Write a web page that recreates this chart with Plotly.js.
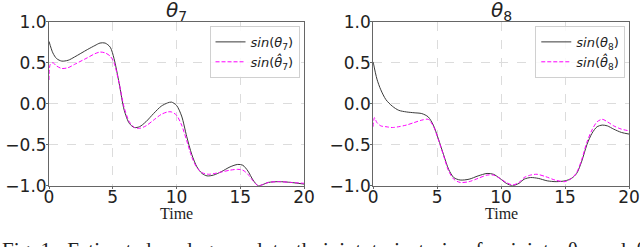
<!DOCTYPE html>
<html>
<head>
<meta charset="utf-8">
<script src="https://cdn.plot.ly/plotly-3.0.1.min.js"></script>
<style>html,body{margin:0;padding:0;background:#fff;}#chart{width:640px;height:247px;}</style>
</head>
<body>
<div id="chart"></div>
<script>
// θ7 true
const t7True = [0, 0.3, 0.6, 1.0, 1.5, 2.0, 3.0, 3.6, 4.0, 4.4, 4.8, 5.1, 5.5, 5.9, 6.3, 6.7, 7.1, 7.6, 8.2, 8.8, 9.3, 9.6, 10.0, 10.4, 10.8, 11.2, 11.6, 12.0, 12.4, 12.9, 13.5, 14.2, 14.8, 15.2, 15.6, 16.0, 16.4, 16.7, 17.2, 18.0, 19.0, 20.0];
const y7True = [0.76, 0.62, 0.55, 0.52, 0.53, 0.57, 0.66, 0.71, 0.74, 0.74, 0.69, 0.55, 0.25, -0.08, -0.24, -0.29, -0.28, -0.22, -0.12, -0.03, 0.01, 0.02, -0.02, -0.15, -0.40, -0.62, -0.77, -0.85, -0.88, -0.87, -0.83, -0.77, -0.74, -0.75, -0.82, -0.93, -1.0, -0.99, -0.96, -0.95, -0.96, -0.98];
// θ7 estimated
const t7Est = [0, 0.1, 0.3, 0.6, 1.0, 1.5, 2.0, 3.0, 3.6, 4.0, 4.4, 4.8, 5.1, 5.5, 5.9, 6.3, 6.7, 7.1, 7.6, 8.2, 8.8, 9.3, 9.6, 10.0, 10.4, 10.8, 11.2, 11.6, 12.0, 12.5, 13.0, 13.6, 14.2, 14.8, 15.2, 15.6, 16.0, 16.4, 16.7, 17.2, 18.0, 19.0, 20.0];
const y7Est = [0.29, 0.48, 0.50, 0.46, 0.43, 0.44, 0.48, 0.56, 0.61, 0.63, 0.62, 0.58, 0.50, 0.25, -0.05, -0.22, -0.29, -0.30, -0.27, -0.20, -0.13, -0.10, -0.10, -0.14, -0.26, -0.45, -0.65, -0.78, -0.84, -0.86, -0.85, -0.83, -0.81, -0.80, -0.81, -0.86, -0.94, -1.0, -0.99, -0.96, -0.95, -0.96, -0.97];
// θ8 true
const t8True = [0, 0.3, 0.6, 1.0, 1.5, 2.0, 2.6, 3.2, 3.8, 4.3, 4.7, 5.1, 5.5, 5.9, 6.3, 6.8, 7.5, 8.2, 8.9, 9.4, 9.9, 10.4, 10.9, 11.4, 11.8, 12.3, 12.9, 13.6, 14.3, 15.0, 15.5, 15.9, 16.3, 16.7, 17.1, 17.5, 17.9, 18.3, 18.8, 19.4, 20.0];
const y8True = [0.51, 0.30, 0.17, 0.05, -0.03, -0.08, -0.10, -0.11, -0.12, -0.16, -0.26, -0.43, -0.62, -0.80, -0.90, -0.93, -0.92, -0.88, -0.85, -0.86, -0.91, -0.97, -1.0, -0.97, -0.92, -0.90, -0.91, -0.94, -0.95, -0.94, -0.91, -0.85, -0.70, -0.50, -0.36, -0.28, -0.26, -0.27, -0.31, -0.35, -0.37];
// θ8 estimated
const t8Est = [0, 0.1, 0.3, 0.6, 1.0, 1.5, 2.0, 2.6, 3.2, 3.8, 4.3, 4.7, 5.1, 5.5, 5.9, 6.3, 6.8, 7.5, 8.2, 8.9, 9.4, 9.9, 10.4, 10.9, 11.4, 11.8, 12.3, 12.8, 13.5, 14.2, 15.0, 15.5, 15.9, 16.3, 16.7, 17.1, 17.5, 17.9, 18.3, 18.8, 19.4, 20.0];
const y8Est = [-0.28, -0.17, -0.23, -0.27, -0.28, -0.29, -0.28, -0.26, -0.23, -0.20, -0.19, -0.27, -0.44, -0.63, -0.82, -0.92, -0.96, -0.95, -0.91, -0.87, -0.87, -0.91, -0.96, -0.99, -0.96, -0.90, -0.87, -0.86, -0.89, -0.93, -0.95, -0.91, -0.84, -0.68, -0.47, -0.32, -0.22, -0.19, -0.22, -0.27, -0.31, -0.33];

const xTicks = [0, 5, 10, 15, 20];
const yTicks = [-1.0, -0.5, 0.0, 0.5, 1.0];
const yTickText = ['\u22121.0', '\u22120.5', '0.0', '0.5', '1.0'];
const titles = ['<i>θ</i><sub>7</sub>', '<i>θ</i><sub>8</sub>'];
const xLabel = 'Time';
const caption = 'Fig. 1:  Estimated  and  ground  truth  joint  trajectories  for  joints  θ<sub>7</sub>  and  θ<sub>8</sub>';

const darkLine = {color: '#3a3a3a', width: 1};
const magLine = {color: '#ff00ff', width: 1, dash: '4px,2px'};

const traces = [
  {x: t7True, y: y7True, type: 'scatter', mode: 'lines', line: Object.assign({shape: 'spline', smoothing: 0.8}, darkLine), name: '<i>sin</i>(<i>θ</i><sub>7</sub>)', xaxis: 'x', yaxis: 'y', legend: 'legend'},
  {x: t7Est, y: y7Est, type: 'scatter', mode: 'lines', line: Object.assign({shape: 'spline', smoothing: 0.8}, magLine), name: '<i>sin</i>(<i>θ\u0302</i><sub>7</sub>)', xaxis: 'x', yaxis: 'y', legend: 'legend'},
  {x: t8True, y: y8True, type: 'scatter', mode: 'lines', line: Object.assign({shape: 'spline', smoothing: 0.8}, darkLine), name: '<i>sin</i>(<i>θ</i><sub>8</sub>)', xaxis: 'x2', yaxis: 'y2', legend: 'legend2'},
  {x: t8Est, y: y8Est, type: 'scatter', mode: 'lines', line: Object.assign({shape: 'spline', smoothing: 0.8}, magLine), name: '<i>sin</i>(<i>θ\u0302</i><sub>8</sub>)', xaxis: 'x2', yaxis: 'y2', legend: 'legend2'}
];

const tickFont = {family: 'DejaVu Sans', size: 17, color: '#222'};
function xAxis(dom, anchor) {
  return {domain: dom, anchor: anchor, range: [0, 20], tickvals: xTicks, ticktext: xTicks.map(String),
    showline: true, linecolor: '#666', linewidth: 1, mirror: true, ticks: 'outside', ticklen: 2, tickcolor: '#666',
    ticklabeloverflow: 'allow', ticklabelstandoff: -6,
    showgrid: true, gridcolor: '#dcdcdc', griddash: 'dash', gridwidth: 1, zeroline: false, tickfont: tickFont, fixedrange: true};
}
function yAxis(dom, anchor) {
  return {domain: dom, anchor: anchor, range: [-1, 1], tickvals: yTicks, ticktext: yTickText,
    showline: true, linecolor: '#666', linewidth: 1, mirror: true, ticks: 'outside', ticklen: 2, tickcolor: '#666',
    ticklabeloverflow: 'allow', ticklabelstandoff: -4,
    showgrid: true, gridcolor: '#dcdcdc', griddash: 'dash', gridwidth: 1, zeroline: false, tickfont: tickFont, fixedrange: true};
}
const yDom = [0.248, 0.912];
const legendCommon = {bgcolor: 'rgba(255,255,255,0.85)', bordercolor: '#d0d0d0', borderwidth: 1,
  font: {family: 'DejaVu Sans', size: 13, color: '#222'}, xanchor: 'right', yanchor: 'top', tracegroupgap: 0, itemwidth: 30};

const layout = {
  width: 640, height: 247,
  margin: {l: 0, r: 0, t: 0, b: 0},
  paper_bgcolor: '#fff', plot_bgcolor: '#fff',
  showlegend: true,
  xaxis: xAxis([0.0766, 0.475], 'y'),
  yaxis: yAxis(yDom, 'x'),
  xaxis2: xAxis([0.583, 0.983], 'y2'),
  yaxis2: yAxis(yDom, 'x2'),
  legend: Object.assign({x: 0.468, y: 0.895}, legendCommon),
  legend2: Object.assign({x: 0.977, y: 0.895}, legendCommon),
  annotations: [
    {text: titles[0], xref: 'paper', yref: 'paper', x: 0.2758, y: 0.955, xanchor: 'center', yanchor: 'middle', showarrow: false, font: {family: 'DejaVu Sans', size: 20, color: '#222'}},
    {text: titles[1], xref: 'paper', yref: 'paper', x: 0.783, y: 0.955, xanchor: 'center', yanchor: 'middle', showarrow: false, font: {family: 'DejaVu Sans', size: 20, color: '#222'}},
    {text: xLabel, xref: 'paper', yref: 'paper', x: 0.2758, y: 0.136, xanchor: 'center', yanchor: 'middle', showarrow: false, font: {family: 'Liberation Serif', size: 16, color: '#222'}},
    {text: xLabel, xref: 'paper', yref: 'paper', x: 0.783, y: 0.136, xanchor: 'center', yanchor: 'middle', showarrow: false, font: {family: 'Liberation Serif', size: 16, color: '#222'}},
    {text: caption, xref: 'paper', yref: 'paper', x: 0.0, y: 0.045, xanchor: 'left', yanchor: 'top', showarrow: false, font: {family: 'Liberation Serif', size: 21, color: '#222'}}
  ]
};

Plotly.newPlot('chart', traces, layout, {displayModeBar: false, staticPlot: true});
</script>
</body>
</html>
